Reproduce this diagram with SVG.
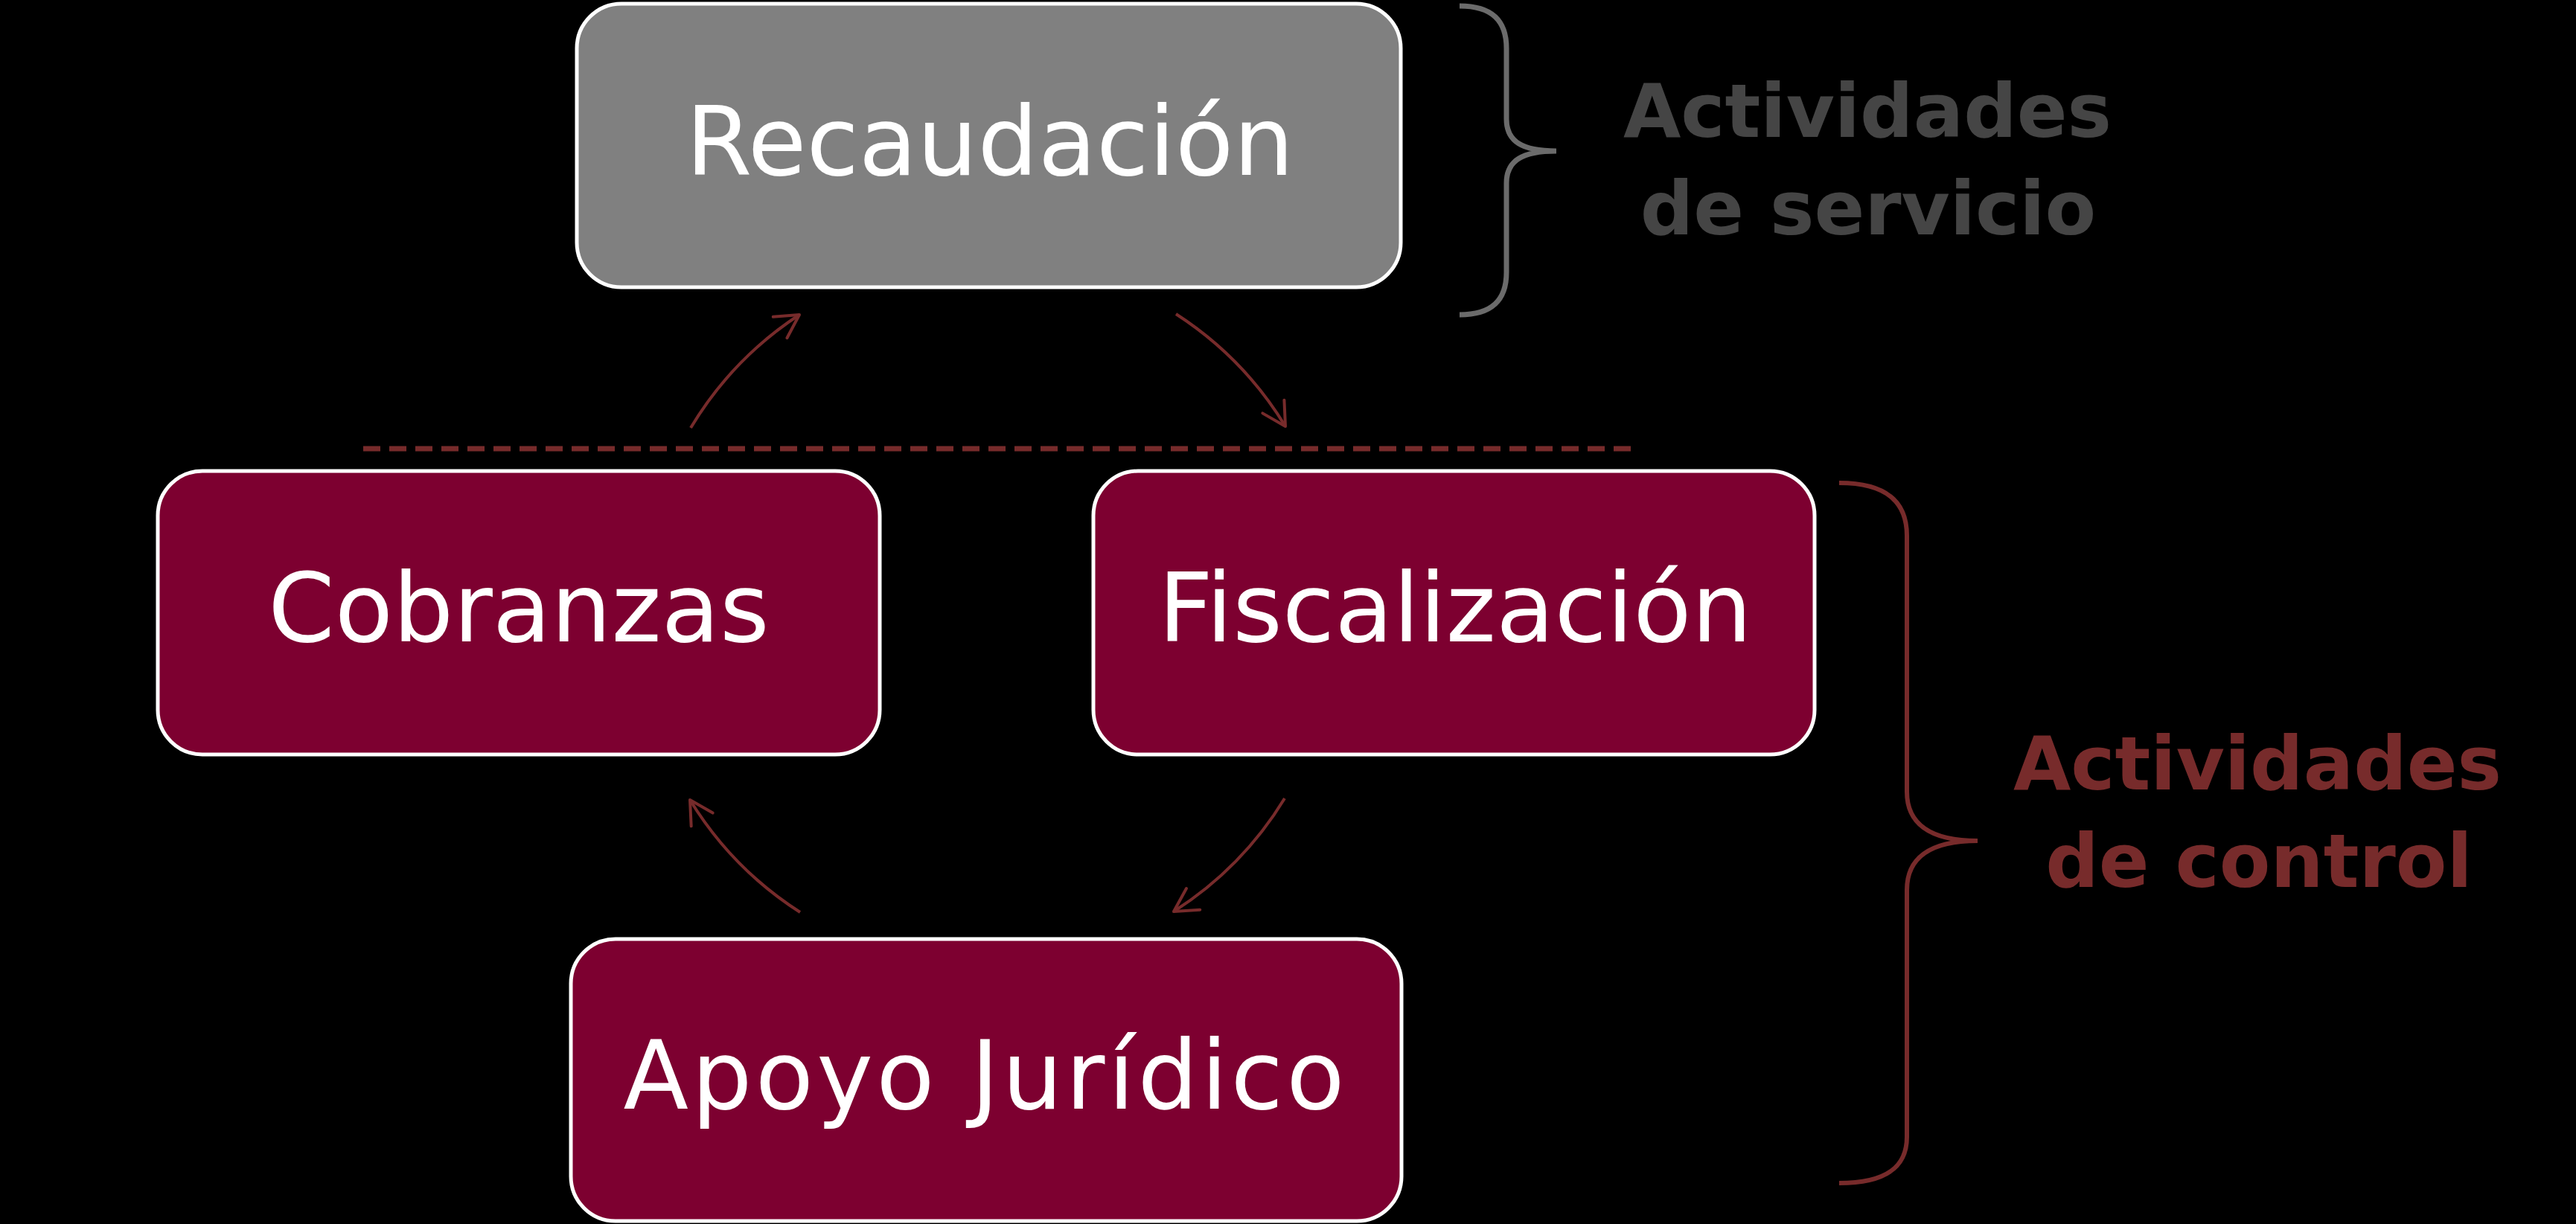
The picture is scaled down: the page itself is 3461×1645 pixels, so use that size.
<svg xmlns="http://www.w3.org/2000/svg" width="3461" height="1645" viewBox="0 0 3461 1645">
<defs>
<style>
.box{stroke:#ffffff;stroke-width:5}
.gray{fill:#808080}
.red{fill:#7D0030}
.lbl{font-family:"DejaVu Sans","Liberation Sans",sans-serif;font-size:128px;fill:#ffffff;text-anchor:middle}
.cap{font-family:"DejaVu Sans","Liberation Sans",sans-serif;font-size:100px;font-weight:bold;text-anchor:middle}
.conn{fill:none;stroke:#772B2B;stroke-width:4}
</style>
<marker id="arr" markerUnits="userSpaceOnUse" markerWidth="80" markerHeight="80" viewBox="-40 -40 80 80" refX="0" refY="0" orient="auto">
<path d="M-31,-17 L0,0 L-31,17" fill="none" stroke="#772B2B" stroke-width="4" stroke-linecap="round" stroke-linejoin="round"/>
</marker>
</defs>
<rect x="0" y="0" width="3461" height="1645" fill="#000000"/>

<g id="connectors">
<path class="conn" d="M928,575 A472,472 0 0 1 1074,423" marker-end="url(#arr)"/>
<path class="conn" d="M1580,422 A472,472 0 0 1 1727,573" marker-end="url(#arr)"/>
<path class="conn" d="M1726,1073 A472,472 0 0 1 1577,1225" marker-end="url(#arr)"/>
<path class="conn" d="M1075,1226 A472,472 0 0 1 927,1075" marker-end="url(#arr)"/>
<line x1="488" y1="603" x2="2193" y2="603" stroke="#772B2B" stroke-width="7" stroke-dasharray="23 12"/>
</g>

<g id="recaudacion">
<rect class="box gray" x="775" y="5" width="1107" height="381" rx="60" ry="60"/>
<text class="lbl" x="1330" y="235">Recaudación</text>
</g>
<g id="cobranzas">
<rect class="box red" x="212" y="633" width="970" height="381" rx="60" ry="60"/>
<text class="lbl" x="697" y="862">Cobranzas</text>
</g>
<g id="fiscalizacion">
<rect class="box red" x="1469" y="633" width="969" height="381" rx="60" ry="60"/>
<text class="lbl" x="1955" y="862">Fiscalización</text>
</g>
<g id="apoyo-juridico">
<rect class="box red" x="767" y="1262" width="1116" height="379" rx="60" ry="60"/>
<text class="lbl" x="1322" y="1490" textLength="969">Apoyo Jurídico</text>
</g>

<g id="servicio-brace">
<path d="M1961,8 C2005,8 2024,28 2024,65 L2024,160 C2024,190 2045,203 2091,203 C2045,203 2024,216 2024,246 L2024,366 C2024,403 2005,423 1961,423" fill="none" stroke="#6b6b6b" stroke-width="7"/>
<text class="cap" x="2509" y="184" fill="#454545">Actividades</text>
<text class="cap" x="2510" y="315" fill="#454545">de servicio</text>
</g>

<g id="control-brace">
<path d="M2471,649 C2535,649 2562,675 2562,720 L2562,1064 C2562,1105 2590,1130 2657,1130 C2590,1130 2562,1155 2562,1196 L2562,1528 C2562,1568 2535,1590 2471,1590" fill="none" stroke="#772B2B" stroke-width="6"/>
<text class="cap" x="3033" y="1061" fill="#772B2B">Actividades</text>
<text class="cap" x="3035" y="1192" fill="#772B2B">de control</text>
</g>
</svg>
